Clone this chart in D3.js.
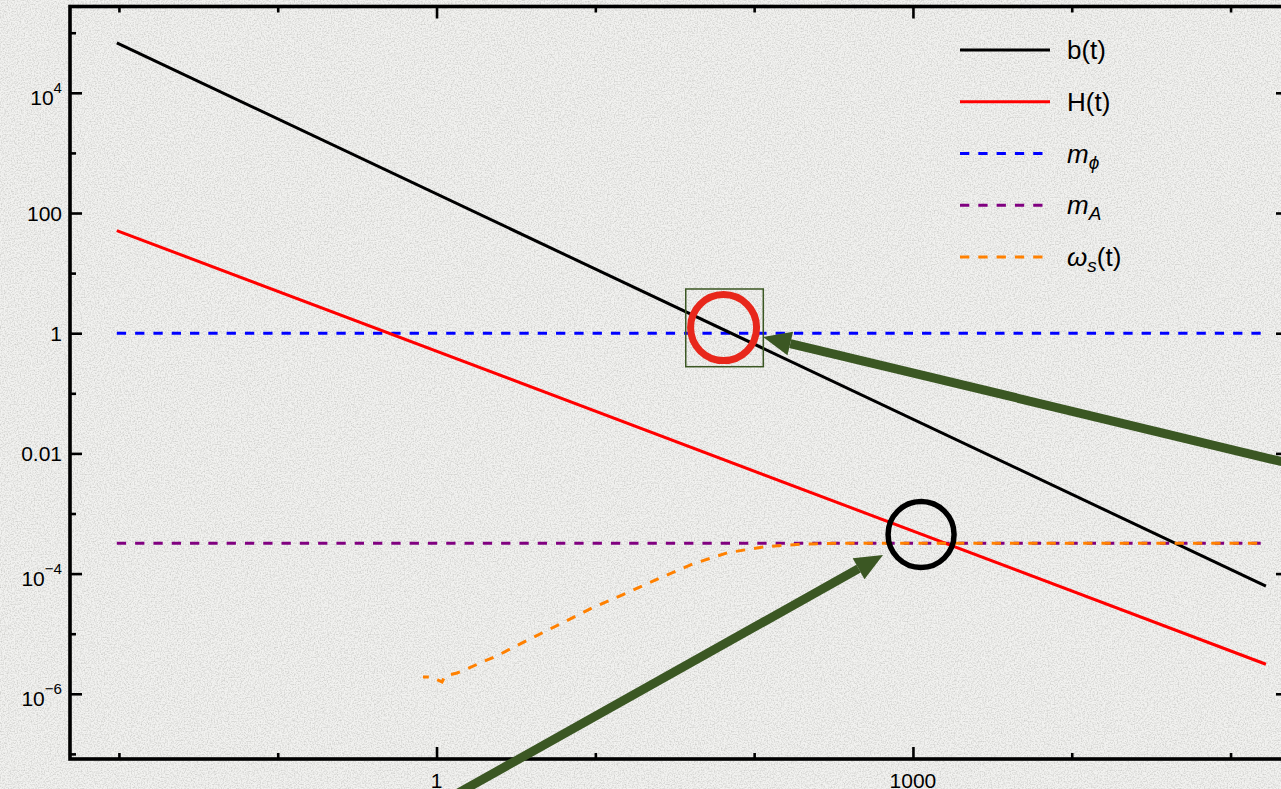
<!DOCTYPE html>
<html>
<head>
<meta charset="utf-8">
<script src="https://cdn.jsdelivr.net/npm/d3@7"></script>
<style>
    body { margin: 0; overflow: hidden; background: #efefec; }
    svg { display: block; }
    text { font-family: "Liberation Sans", Arial, sans-serif; fill: #000; }
</style>
</head>
<body>
<svg id="chart" width="1281" height="789"></svg>
<script>
// values
const bTimes = [0.0097, 1.67e5];
const bValues = [6.8e4, 6.2e-5];
const hTimes = [0.0097, 1.67e5];
const hValues = [51, 3.1e-6];
const flatTimes = [0.0097, 1.67e5];
const mPhiValue = 1;
const mAValue = 3.2e-4;
const omegaTimes = [0.822, 0.937, 1.083, 1.131, 1.346, 1.556, 1.879, 2.40, 2.99, 3.77, 6.00, 9.53, 15.8, 25.5, 41.2, 68.4, 117, 203, 347, 1.67e5];
const omegaValues = [1.90e-6, 1.90e-6, 1.57e-6, 1.98e-6, 2.22e-6, 2.59e-6, 3.26e-6, 4.26e-6, 5.78e-6, 7.85e-6, 1.45e-5, 2.68e-5, 4.76e-5, 8.45e-5, 1.45e-4, 2.23e-4, 2.81e-4, 3.10e-4, 3.2e-4, 3.2e-4];

const xMajorTicks = [1, 1000];
const xMinorTicks = [0.01, 0.1, 10, 100, 1e4, 1e5];
const xTickLabels = ['1', '1000'];
const yMajorTicks = [1e4, 100, 1, 0.01, 1e-4, 1e-6];
const yMinorTicks = [1e5, 1e3, 10, 0.1, 1e-3, 1e-5, 1e-7];
const yTickLabels = [['10', '4'], ['100'], ['1'], ['0.01'], ['10', '\u22124'], ['10', '\u22126']];

const legendNames = ['b(t)', 'H(t)', 'm_phi', 'm_A', 'omega_s'];

// annotation anchors, in data units
const redCircle = [64.2, 1.24];
const blackCircle = [1125, 4.47e-4];
const boxCorners = [[37.1, 5.44], [114.2, 0.277]];
const arrowOne = [[2.74e5, 6.17e-3], [113.8, 0.865]];
const arrowTwo = [[1.31, 2.09e-8], [648, 2.04e-4]];

const svg = d3.select('#chart');
const width = 1281, height = 789;
const padL = 70, padR = 1288, padT = 6.5, padB = 759;

const x = d3.scaleLog().domain([0.00492, 2.30e5]).range([padL, padR]);
const y = d3.scaleLog().domain([8.22e-8, 2.73e5]).range([padB, padT]);

// grainy paper background
const defs = svg.append('defs');
const grain = defs.append('filter').attr('id', 'grain')
    .attr('x', 0).attr('y', 0).attr('width', '100%').attr('height', '100%');
grain.append('feTurbulence')
    .attr('type', 'fractalNoise')
    .attr('baseFrequency', 0.7)
    .attr('numOctaves', 2)
    .attr('seed', 5)
    .attr('result', 'n');
grain.append('feColorMatrix')
    .attr('in', 'n')
    .attr('type', 'matrix')
    .attr('values', '0 0 0 0 0.5  0 0 0 0 0.5  0 0 0 0 0.48  1.4 0 0 0 -0.55');

svg.append('rect').attr('width', width).attr('height', height).attr('fill', '#f2f2f0');
svg.append('rect').attr('width', width).attr('height', height).attr('filter', 'url(#grain)');

// series
const line = d3.line()
    .x(d => x(d[0]))
    .y(d => y(d[1]));

const series = [
    { pts: d3.zip(flatTimes, [mPhiValue, mPhiValue]), color: '#0000ff', dash: '9.3,9' },
    { pts: d3.zip(flatTimes, [mAValue, mAValue]), color: '#800080', dash: '9.3,9' },
    { pts: d3.zip(hTimes, hValues), color: '#ff0000', dash: null },
    { pts: d3.zip(bTimes, bValues), color: '#000000', dash: null },
    { pts: d3.zip(omegaTimes, omegaValues), color: '#ff8000', dash: '9.3,9', offset: 3.5 }
];

const plot = svg.append('g');
series.forEach(s => {
    plot.append('path')
        .attr('d', line(s.pts))
        .attr('fill', 'none')
        .attr('stroke', s.color)
        .attr('stroke-width', 3)
        .attr('stroke-dasharray', s.dash)
        .attr('stroke-dashoffset', s.offset || 0);
});

// frame and ticks
const frame = svg.append('g');
const addAxis = (axis, tx, ty) => {
    const g = frame.append('g').attr('transform', 'translate(' + tx + ',' + ty + ')').call(axis);
    g.select('.domain').remove();
    g.selectAll('.tick line').attr('stroke', '#000').attr('stroke-width', 2.6);
    g.selectAll('.tick text').remove();
};
addAxis(d3.axisRight(y).tickValues(yMajorTicks).tickSize(12), padL, 0);
addAxis(d3.axisRight(y).tickValues(yMinorTicks).tickSize(6), padL, 0);
addAxis(d3.axisLeft(y).tickValues(yMajorTicks).tickSize(12), padR, 0);
addAxis(d3.axisLeft(y).tickValues(yMinorTicks).tickSize(6), padR, 0);
addAxis(d3.axisTop(x).tickValues(xMajorTicks).tickSize(12), 0, padB);
addAxis(d3.axisTop(x).tickValues(xMinorTicks).tickSize(6), 0, padB);
addAxis(d3.axisBottom(x).tickValues(xMajorTicks).tickSize(12), 0, padT);
addAxis(d3.axisBottom(x).tickValues(xMinorTicks).tickSize(6), 0, padT);

frame.append('rect')
    .attr('x', padL).attr('y', padT)
    .attr('width', padR - padL).attr('height', padB - padT)
    .attr('fill', 'none').attr('stroke', '#000').attr('stroke-width', 3.6);

// tick labels
const fs = 21;
yMajorTicks.forEach((v, i) => {
    const lab = yTickLabels[i];
    const t = svg.append('text')
        .attr('x', 62)
        .attr('y', y(v) + (lab.length > 1 ? 12 : 7.5))
        .attr('text-anchor', 'end')
        .style('font-size', fs + 'px');
    t.append('tspan').text(lab[0]);
    if (lab.length > 1) {
        t.append('tspan').attr('dy', -12).style('font-size', (fs * 0.72) + 'px').text(lab[1]);
    }
});
xMajorTicks.forEach((v, i) => {
    svg.append('text')
        .attr('x', x(v))
        .attr('y', 788)
        .attr('text-anchor', 'middle')
        .style('font-size', fs + 'px')
        .text(xTickLabels[i]);
});

// legend
const legendItems = [
    { color: '#000000', dash: null, parts: [{ s: 'b(t)' }] },
    { color: '#ff0000', dash: null, parts: [{ s: 'H(t)' }] },
    { color: '#0000ff', dash: '9.3,9', parts: [{ s: 'm', it: 1 }, { s: '\u03d5', it: 1, sub: 1 }] },
    { color: '#800080', dash: '9.3,9', parts: [{ s: 'm', it: 1 }, { s: 'A', it: 1, sub: 1 }] },
    { color: '#ff8000', dash: '9.3,9', parts: [{ s: '\u03c9', it: 1 }, { s: 's', it: 1, sub: 1 }, { s: '(t)', up: 1 }] }
];
const legendY = d3.scalePoint().domain(legendNames).range([50, 257]);
legendItems.forEach((item, i) => {
    const ly = legendY(legendNames[i]);
    svg.append('line')
        .attr('x1', 960).attr('x2', 1050)
        .attr('y1', ly).attr('y2', ly)
        .attr('stroke', item.color)
        .attr('stroke-width', 3)
        .attr('stroke-dasharray', item.dash);
    const t = svg.append('text')
        .attr('x', 1067).attr('y', ly + 9)
        .style('font-size', '26px');
    item.parts.forEach(p => {
        const sp = t.append('tspan').text(p.s);
        if (p.it) sp.style('font-style', 'italic');
        if (p.sub) sp.attr('dy', 6).style('font-size', '19px');
        if (p.up) sp.attr('dy', -6);
    });
});

// annotations
const green = '#3b5723';
const ann = svg.append('g');
ann.append('rect')
    .attr('x', x(boxCorners[0][0])).attr('y', y(boxCorners[0][1]))
    .attr('width', x(boxCorners[1][0]) - x(boxCorners[0][0]))
    .attr('height', y(boxCorners[1][1]) - y(boxCorners[0][1]))
    .attr('fill', 'none').attr('stroke', green).attr('stroke-width', 1.5);
ann.append('circle')
    .attr('cx', x(redCircle[0])).attr('cy', y(redCircle[1])).attr('r', 33)
    .attr('fill', 'none').attr('stroke', '#e8271b').attr('stroke-width', 7);
ann.append('circle')
    .attr('cx', x(blackCircle[0])).attr('cy', y(blackCircle[1])).attr('r', 33)
    .attr('fill', 'none').attr('stroke', '#000').attr('stroke-width', 5.5);

const drawArrow = (a) => {
    const x0 = x(a[0][0]), y0 = y(a[0][1]);
    const x1 = x(a[1][0]), y1 = y(a[1][1]);
    const ang = Math.atan2(y1 - y0, x1 - x0);
    const headLen = 28, headHalf = 12;
    const bx = x1 - headLen * Math.cos(ang), by = y1 - headLen * Math.sin(ang);
    ann.append('line')
        .attr('x1', x0).attr('y1', y0).attr('x2', bx).attr('y2', by)
        .attr('stroke', green).attr('stroke-width', 9);
    const px = -Math.sin(ang) * headHalf, py = Math.cos(ang) * headHalf;
    ann.append('path')
        .attr('d', 'M ' + x1 + ' ' + y1 + ' L ' + (bx + px) + ' ' + (by + py) + ' L ' + (bx - px) + ' ' + (by - py) + ' Z')
        .attr('fill', green);
};
drawArrow(arrowOne);
drawArrow(arrowTwo);
</script>
</body>
</html>
